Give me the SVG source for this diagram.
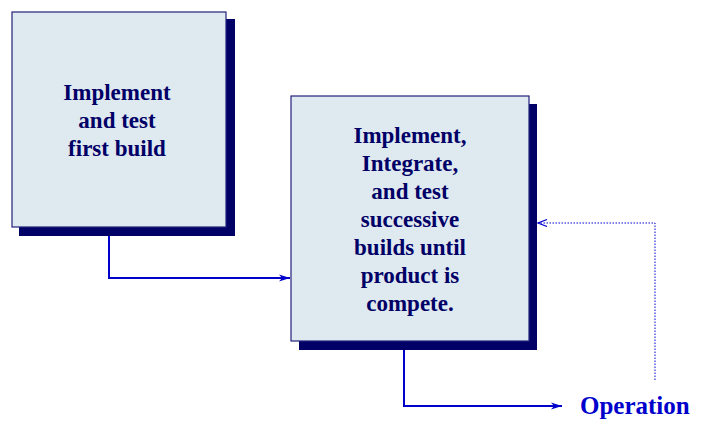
<svg xmlns="http://www.w3.org/2000/svg" width="702" height="435" viewBox="0 0 702 435">
<defs>
<style>
.shadow{fill:#000066}
.box{fill:#dfe9f0;stroke:#22227a;stroke-width:1.2}
.lbl{font-family:"Liberation Serif","Times New Roman",serif;font-weight:bold;font-size:23px;fill:#000066;text-anchor:middle}
.conn{fill:none;stroke:#0000cc;stroke-width:2}
.dot{fill:none;stroke:#0000cc;stroke-width:1;stroke-dasharray:1.5 1.5}
.op{font-family:"Liberation Serif","Times New Roman",serif;font-weight:bold;font-size:25px;fill:#0000cc}
</style>
<marker id="ah" markerWidth="12" markerHeight="8" refX="11" refY="4" orient="auto" markerUnits="userSpaceOnUse">
<path d="M0,0.5 L11,4 L0,7.5 L3,4 Z" fill="#0000cc"/>
</marker>
<marker id="ao" markerWidth="12" markerHeight="8" refX="10" refY="4" orient="auto" markerUnits="userSpaceOnUse">
<path d="M1,0.5 L10,4 L1,7.5" fill="none" stroke="#0000cc" stroke-width="1.2"/>
</marker>
</defs>
<g id="connectors">
<path class="conn" d="M109,231 V278 H290" marker-end="url(#ah)"/>
<path class="conn" d="M404,343 V406 H562" marker-end="url(#ah)"/>
<path class="dot" d="M655,380 V223 H538" marker-end="url(#ao)"/>
</g>
<g id="node1">
<rect class="shadow" x="19" y="19" width="216" height="217"/>
<rect class="box" x="12" y="12" width="214" height="215"/>
<text class="lbl"><tspan x="117" y="100">Implement</tspan><tspan x="117" y="128">and test</tspan><tspan x="117" y="156">first build</tspan></text>
</g>
<g id="node2">
<rect class="shadow" x="299" y="104" width="238" height="246"/>
<rect class="box" x="291" y="96" width="238" height="245"/>
<text class="lbl"><tspan x="410" y="143">Implement,</tspan><tspan x="410" y="171">Integrate,</tspan><tspan x="410" y="199">and test</tspan><tspan x="410" y="227">successive</tspan><tspan x="410" y="255">builds until</tspan><tspan x="410" y="283">product is</tspan><tspan x="410" y="311">compete.</tspan></text>
</g>
<g id="operation">
<text class="op" x="580" y="414">Operation</text>
</g>
</svg>
